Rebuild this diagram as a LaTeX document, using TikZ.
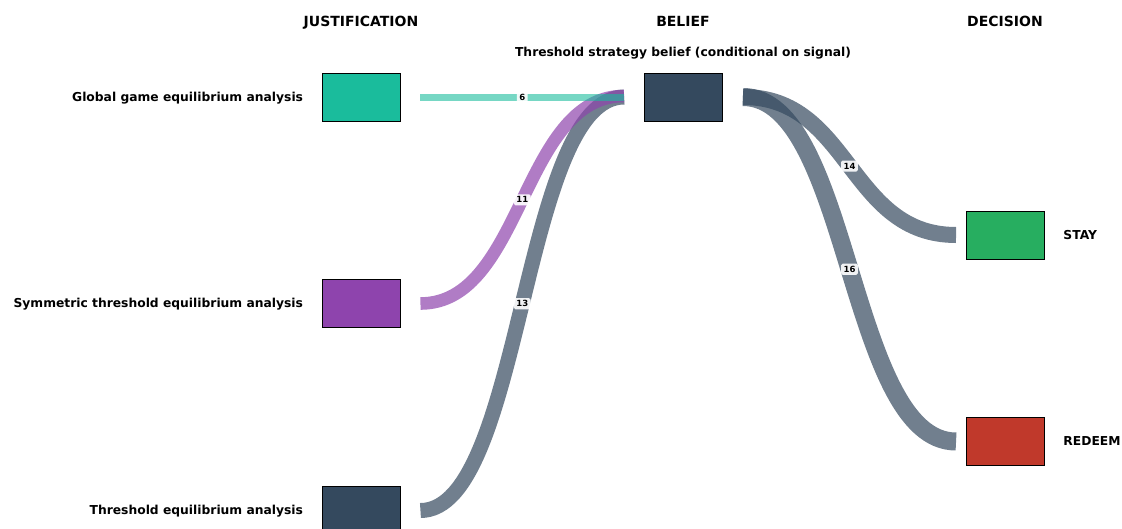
\documentclass[tikz,border=0pt]{standalone}
\usepackage{fontspec}
\setmainfont{DejaVu Sans}
\usetikzlibrary{positioning}

\definecolor{tealc}{HTML}{1ABC9C}
\definecolor{purplec}{HTML}{8E44AD}
\definecolor{slatec}{HTML}{34495E}
\definecolor{greenc}{HTML}{27AE60}
\definecolor{redc}{HTML}{C0392B}

\begin{document}
\begin{tikzpicture}[x=1pt,y=-1pt,
    box/.style={draw=black,line width=0.9pt,minimum width=78pt,minimum height=48pt,inner sep=0pt},
    flow/.style={draw opacity=0.7,line cap=butt},
    lbl/.style={fill=white,fill opacity=0.9,text opacity=1,rounded corners=1.5pt,inner sep=2.4pt,font=\fontsize{8.5}{10}\selectfont\bfseries},
    nodetext/.style={font=\fontsize{12.3}{14}\selectfont\bfseries},
    head/.style={anchor=base,font=\fontsize{14}{16}\selectfont\bfseries}]
    \clip (0,0) rectangle (1122,528);
    % columns
    \node[head] (hj) at (361,26) {JUSTIFICATION};
    \node[head] (hb) at (683,26) {BELIEF};
    \node[head] (hd) at (1005,26) {DECISION};
    \node[nodetext,anchor=base] (sub) at (683,56.5) {Threshold strategy belief (conditional on signal)};
    % nodes
    \node[box,fill=tealc] (glob) at (361,97) {};
    \node[box,fill=purplec] (sym) at (361,303.5) {};
    \node[box,fill=slatec] (thr) at (361,510.5) {};
    \node[box,fill=slatec] (bel) at (683.5,97) {};
    \node[box,fill=greenc] (stay) at (1005.5,235) {};
    \node[box,fill=redc] (red) at (1005.5,441.5) {};
    \node[nodetext,left=15pt of glob,yshift=-1pt] (glob-lab) {Global game equilibrium analysis};
    \node[nodetext,left=15pt of sym,yshift=-1pt] (sym-lab) {Symmetric threshold equilibrium analysis};
    \node[nodetext,left=15pt of thr,yshift=-1pt] (thr-lab) {Threshold equilibrium analysis};
    \node[nodetext,right=15pt of stay] (stay-lab) {STAY};
    \node[nodetext,right=15pt of red] (red-lab) {REDEEM};
    % flow ends
    \coordinate (glob-out) at ([xshift=20pt]glob.east);
    \coordinate (sym-out) at ([xshift=20pt]sym.east);
    \coordinate (thr-out) at ([xshift=20pt]thr.east);
    \coordinate (bel-in) at ([xshift=-20pt]bel.west);
    \coordinate (bel-in2) at ([xshift=-20pt,yshift=1pt]bel.west);
    \coordinate (bel-out) at ([xshift=20pt]bel.east);
    \coordinate (stay-in) at ([xshift=-10pt]stay.west);
    \coordinate (red-in) at ([xshift=-10pt]red.west);
    % flows
    \draw[flow,draw=slatec,line width=15pt] (thr-out) .. controls +(102.5,0) and +(-102.5,0) .. (bel-in)
        node[pos=0.5,lbl] {13};
    \draw[flow,draw=purplec,line width=12.6pt] (sym-out) .. controls +(102.5,0) and +(-102.5,0) .. (bel-in2)
        node[pos=0.5,lbl] {11};
    \draw[flow,draw=tealc,draw opacity=0.6,line width=7pt] (glob-out) -- (bel-in) node[pos=0.5,lbl] {6};
    \draw[flow,draw=slatec,line width=18pt] (bel-out) .. controls +(107.5,0) and +(-107.5,0) .. (red-in)
        node[pos=0.5,lbl] {16};
    \draw[flow,draw=slatec,line width=16pt] (bel-out) .. controls +(107.5,0) and +(-107.5,0) .. (stay-in)
        node[pos=0.5,lbl] {14};
\end{tikzpicture}
\end{document}
